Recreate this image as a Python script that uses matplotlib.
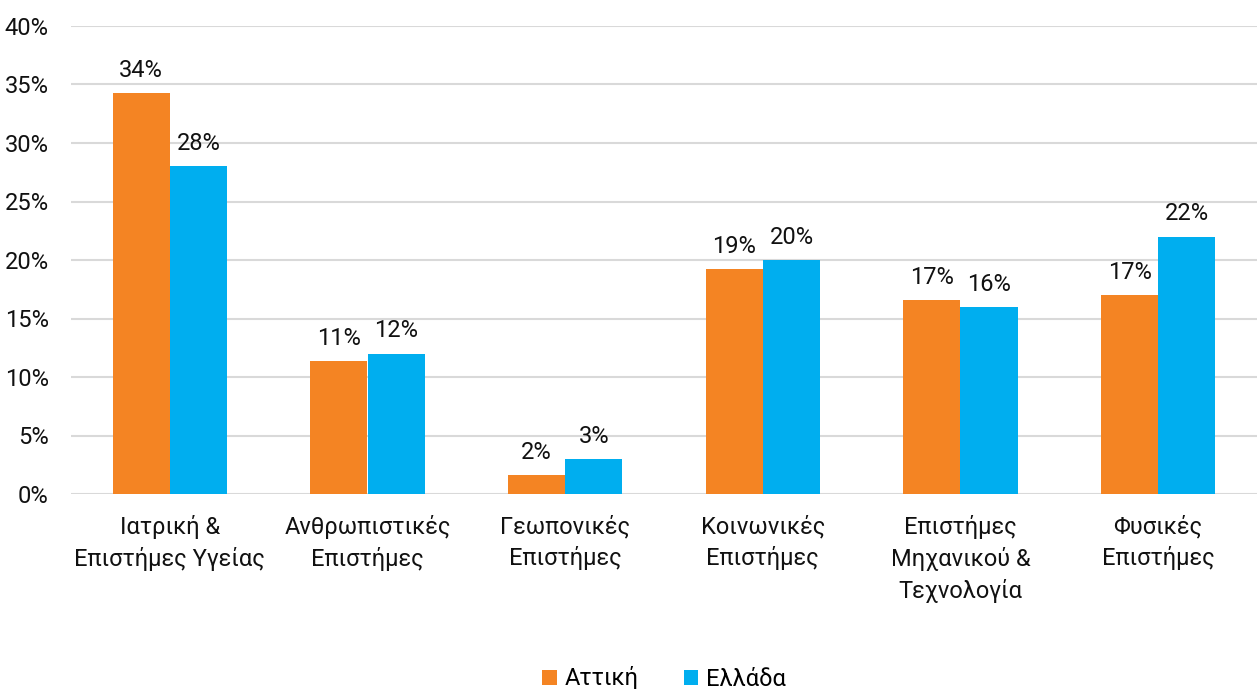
import matplotlib
matplotlib.use("Agg")
import matplotlib.pyplot as plt
import numpy as np

categories = ["Ιατρική &\nΕπιστήμες Υγείας", "Ανθρωπιστικές\nΕπιστήμες", "Γεωπονικές\nΕπιστήμες",
              "Κοινωνικές\nΕπιστήμες", "Επιστήμες\nΜηχανικού &\nΤεχνολογία", "Φυσικές\nΕπιστήμες"]
attiki = [34.3, 11.4, 1.6, 19.2, 16.6, 17.0]
ellada = [28.0, 12.0, 3.0, 20.0, 16.0, 22.0]
series_names = ["Αττική", "Ελλάδα"]
yticks = [0, 5, 10, 15, 20, 25, 30, 35, 40]

plt.rcParams['font.family'] = ['Roboto', 'DejaVu Sans']
fs = 17
fig = plt.figure(figsize=(12.58, 6.89), dpi=100)
ax = fig.add_axes([71/1258, 1-494/689, 1186/1258, 468/689])

x = np.arange(len(categories))
w = 0.29
c1, c2 = "#F48423", "#00AEEF"
b1 = ax.bar(x - w/2, attiki, w, color=c1, label=series_names[0], zorder=3)
b2 = ax.bar(x + w/2, ellada, w, color=c2, label=series_names[1], zorder=3)
for bars, vals in ((b1, attiki), (b2, ellada)):
    for r, v in zip(bars, vals):
        ax.annotate(f"{v:.0f}%", (r.get_x() + r.get_width()/2, v), xytext=(0, 8),
                    textcoords="offset points", ha="center", va="bottom", fontsize=fs, color="#111111")

ax.set_xlim(-0.5, len(categories) - 0.5)
ax.set_ylim(0, 40)
ax.set_yticks(yticks)
ax.set_yticklabels([f"{t}%" for t in yticks], fontsize=fs)
ax.set_xticks(x)
ax.set_xticklabels(categories, fontsize=fs, linespacing=1.42)
ax.tick_params(axis='both', length=0, colors="#111111")
ax.tick_params(axis='x', pad=15)
ax.tick_params(axis='y', pad=16)
ax.grid(axis='y', color="#d9d9d9", linewidth=1.5, zorder=0)
for s in ax.spines.values():
    s.set_visible(False)

fig.legend(handles=[b1, b2], labels=series_names, loc="lower center", bbox_to_anchor=(0.528, -0.033),
           ncol=2, frameon=False, fontsize=fs, handlelength=0.6, handleheight=0.6,
           handletextpad=0.35, columnspacing=1.9)

fig.savefig("out.png", dpi=100)
